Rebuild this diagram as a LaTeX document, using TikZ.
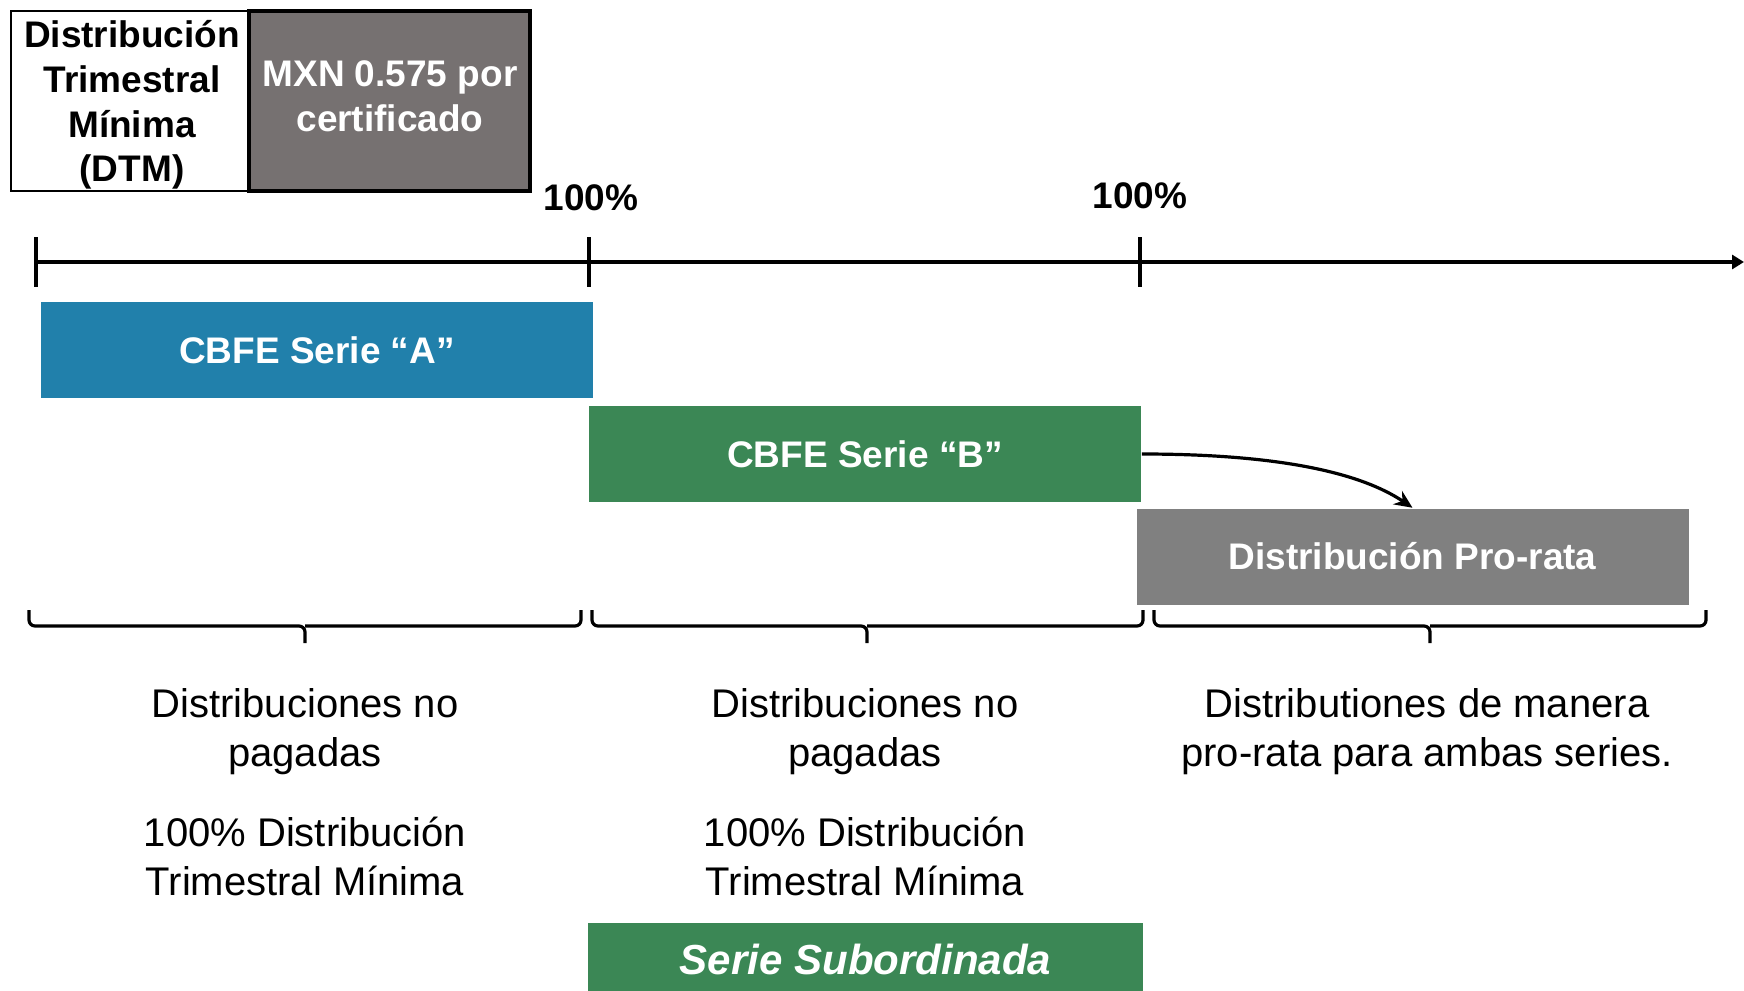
\documentclass[tikz,border=0pt]{standalone}
\usepackage{fontspec}
\setmainfont{Liberation Sans}
\usetikzlibrary{arrows.meta}

\definecolor{serieblue}{RGB}{33,128,171}
\definecolor{seriegreen}{RGB}{59,135,85}
\definecolor{darkbox}{RGB}{118,113,113}
\definecolor{prorgray}{RGB}{128,128,128}

\tikzset{every picture/.style={line width=0.75pt}}
\tikzset{
  serbox/.style={minimum width=276pt, minimum height=48pt, inner sep=0pt, text=white, font=\bfseries\fontsize{18.5}{22}\selectfont},
  headtxt/.style={align=center, inner sep=0.75pt, font=\bfseries\fontsize{18.5}{22.3}\selectfont},
  bodytxt/.style={align=center, inner sep=0.75pt, font=\fontsize{20}{24.5}\selectfont},
  underbrace/.style={line width=1.6pt, rounded corners=3pt},
}

\begin{document}
\begin{tikzpicture}[x=0.5pt,y=0.5pt,yscale=-1,xscale=1]
        \useasboundingbox (0,0) rectangle (1744,990);

        %Shape: Rectangle [DTM]
        \node (dtm) [draw, fill=white, line width=0.75pt, minimum width=119pt, minimum height=90pt, inner sep=0pt] at (130,101) {};
        % Text Node
        \node (dtmtxt) [headtxt] at (132,105) {Distribución\\Trimestral\\Mínima\\(DTM)};
        %Shape: Rectangle [MXN]
        \node (mxn) [draw, line width=2pt, fill=darkbox, minimum width=140.5pt, minimum height=90pt, inner sep=0pt] at (389.5,101) {};
        % Text Node
        \node (mxntxt) [headtxt, text=white] at (390,96) {MXN 0.575 por\\certificado};

        %Straight Lines [timeline]
        \coordinate (t0) at (36,262);
        \coordinate (t1) at (589,262);
        \coordinate (t2) at (1140,262);
        \coordinate (tend) at (1744,262);
        \draw [line width=1.75pt, -{Triangle[length=6pt,width=7pt]}] (t0) -- (tend) ;
        \draw [line width=1.6pt] (t0) ++(0,-25) -- ++(0,50) ;
        \draw [line width=1.6pt] (t1) ++(0,-25) -- ++(0,50) ;
        \draw [line width=1.6pt] (t2) ++(0,-25) -- ++(0,50) ;

        % Text Node
        \node (pct1) [headtxt] at (591,198) {100\%};
        % Text Node
        \node (pct2) [headtxt] at (1140,196) {100\%};

        %Shape: Rectangle [series]
        \node (serieA) [serbox, fill=serieblue] at (317,350) {CBFE Serie “A”};
        \node (serieB) [serbox, fill=seriegreen] at (865,454) {CBFE Serie “B”};
        \node (prorata) [serbox, fill=prorgray] at (1412.5,556.5) {Distribución Pro-rata};

        %Curve Lines
        \draw [line width=1.6pt, -{Stealth[length=9pt,width=8pt]}] (serieB.east) .. controls (1300,454) and (1370,479) .. (prorata.north) ;

        %Braces
        \draw [underbrace] (29,610) |- (305,626) -- (305,643) ;
        \draw [underbrace] (581,610) |- (305,626) ;
        \draw [underbrace] (592,610) |- (867,626) -- (867,643) ;
        \draw [underbrace] (1143,610) |- (867,626) ;
        \draw [underbrace] (1154,610) |- (1430,626) -- (1430,643) ;
        \draw [underbrace] (1706,610) |- (1430,626) ;

        % Text Node
        \node (nopag1) [bodytxt] at (305,732) {Distribuciones no\\pagadas};
        % Text Node
        \node (dtmtxt1) [bodytxt] at (305,856) {100\% Distribución\\Trimestral Mínima};
        % Text Node
        \node (nopag2) [bodytxt] at (865,732) {Distribuciones no\\pagadas};
        % Text Node
        \node (dtmtxt2) [bodytxt] at (865,856) {100\% Distribución\\Trimestral Mínima};
        % Text Node
        \node (protxt) [bodytxt] at (1427,732) {Distributiones de manera\\pro-rata para ambas series.};

        %Shape: Rectangle [subordinada]
        \node (subord) [serbox, fill=seriegreen, minimum width=277.5pt, minimum height=36pt, font=\bfseries\itshape\fontsize{21}{25}\selectfont] at (865.5,959) {Serie Subordinada};

\end{tikzpicture}
\end{document}
